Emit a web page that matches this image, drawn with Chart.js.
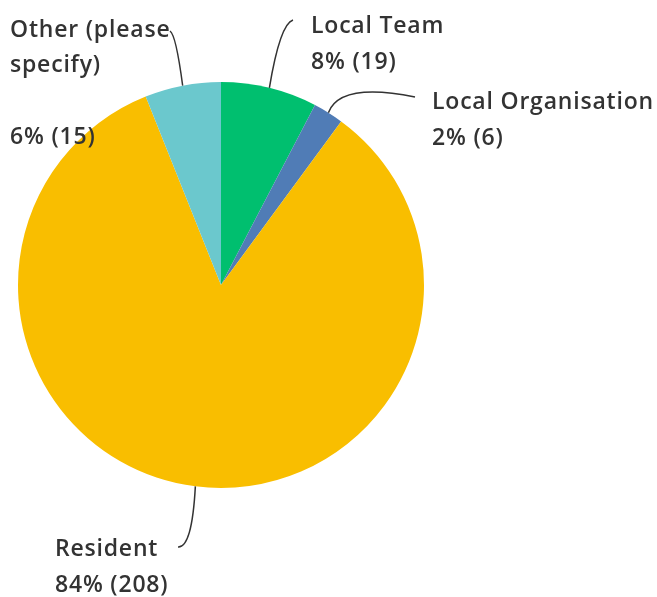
<!DOCTYPE html>
<html>
<head>
<meta charset="utf-8">
<script src="https://cdn.jsdelivr.net/npm/chart.js@4/dist/chart.umd.min.js"></script>
<style>
  html, body { margin: 0; padding: 0; background: #fff; }
  #wrap { width: 657px; height: 597px; position: relative; }
</style>
</head>
<body>
<div id="wrap"><canvas id="pie" width="657" height="597"></canvas></div>
<script>
// 数据
const categories = ['Local Team', 'Local Organisation', 'Resident', 'Other (please specify)'];
const counts = [19, 6, 208, 15];
const percentLabels = ['8% (19)', '2% (6)', '84% (208)', '6% (15)'];
const sliceColors = ['#00bf6f', '#507cb6', '#f9be00', '#6bc8cd'];

// 标签位置（文字和引线终点）
const labelLayout = [
  { lines: ['Local Team', percentLabels[0]], x: 311, y: 33, offs: [0, 36], end: [293, 20], ctrl: [280, 24] },
  { lines: ['Local Organisation', percentLabels[1]], x: 432, y: 109, offs: [0, 36], end: [415, 97], ctrl: [340, 82] },
  { lines: ['Resident', percentLabels[2]], x: 55, y: 556, offs: [0, 36], end: [178, 547], ctrl: [192, 548] },
  { lines: ['Other (please', 'specify)', percentLabels[3]], x: 10, y: 37, offs: [0, 35, 107], end: [170, 31], ctrl: [176, 35] }
];

const leaderPlugin = {
  id: 'leaders',
  afterDraw(chart) {
    const ctx = chart.ctx;
    const arcs = chart.getDatasetMeta(0).data;
    ctx.save();
    arcs.forEach((arc, i) => {
      const p = arc.getProps(['x', 'y', 'startAngle', 'endAngle', 'outerRadius'], true);
      const mid = (p.startAngle + p.endAngle) / 2;
      const sx = p.x + Math.cos(mid) * p.outerRadius;
      const sy = p.y + Math.sin(mid) * p.outerRadius;
      const lab = labelLayout[i];
      ctx.strokeStyle = '#333';
      ctx.lineWidth = 1.5;
      ctx.beginPath();
      ctx.moveTo(sx, sy);
      ctx.quadraticCurveTo(lab.ctrl[0], lab.ctrl[1], lab.end[0], lab.end[1]);
      ctx.stroke();

      ctx.fillStyle = '#333';
      ctx.font = '600 23px "Open Sans", sans-serif';
      ctx.letterSpacing = '0.8px';
      ctx.textAlign = 'left';
      ctx.textBaseline = 'alphabetic';
      lab.lines.forEach((t, k) => {
        ctx.fillText(t, lab.x, lab.y + lab.offs[k]);
      });
    });
    ctx.restore();
  }
};

new Chart(document.getElementById('pie'), {
  type: 'pie',
  data: {
    labels: categories,
    datasets: [{
      data: counts,
      backgroundColor: sliceColors,
      borderWidth: 0
    }]
  },
  options: {
    responsive: false,
    animation: false,
    layout: { padding: { left: 18, top: 82, right: 233, bottom: 109 } },
    plugins: {
      legend: { display: false },
      tooltip: { enabled: false }
    }
  },
  plugins: [leaderPlugin]
});
</script>
</body>
</html>
